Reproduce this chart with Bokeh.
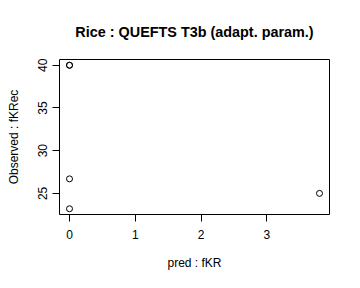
from bokeh.plotting import figure
from bokeh.models import Range1d, FixedTicker
from bokeh.embed import file_html
from bokeh.resources import INLINE

# data
pred_fKR = [0.0, 0.0, 0.0, 0.0, 3.8]
obs_fKRec = [40.0, 40.0, 26.7, 23.2, 25.0]
x_ticks = [0, 1, 2, 3]
y_ticks = [25, 30, 35, 40]
title_text = "Rice : QUEFTS T3b (adapt. param.)"
x_label = "pred : fKR"
y_label = "Observed : fKRec"

def pad(lo, hi):
    d = (hi - lo) * 0.04
    return lo - d, hi + d

x0, x1 = pad(min(pred_fKR), max(pred_fKR))
y0, y1 = pad(min(obs_fKRec), max(obs_fKRec))

FONT = "Liberation Sans"

p = figure(width=360, height=288, output_backend="svg", toolbar_location=None,
           x_range=Range1d(x0, x1), y_range=Range1d(y0, y1),
           min_border_left=59, min_border_right=31, min_border_top=59, min_border_bottom=74,
           title=title_text)
p.title.align = "center"
p.title.text_font = FONT
p.title.text_font_size = "14.4px"
p.title.text_font_style = "bold"
p.title.text_color = "black"
p.title.standoff = 39

p.background_fill_color = "white"
p.border_fill_color = "white"
p.outline_line_color = "black"
p.outline_line_alpha = 1
p.outline_line_width = 1
p.xgrid.visible = False
p.ygrid.visible = False

p.scatter(pred_fKR, obs_fKRec, size=6, marker="circle", fill_color=None,
          line_color="black", line_width=1)

for ax, ticks, lab in ((p.xaxis[0], x_ticks, x_label), (p.yaxis[0], y_ticks, y_label)):
    ax.ticker = FixedTicker(ticks=ticks)
    ax.minor_tick_line_color = None
    ax.axis_line_color = None
    ax.major_tick_in = 0
    ax.major_tick_out = 7
    ax.major_tick_line_color = "black"
    ax.major_label_text_font = FONT
    ax.major_label_text_font_size = "12px"
    ax.major_label_text_color = "black"
    ax.axis_label = lab
    ax.axis_label_text_font = FONT
    ax.axis_label_text_font_size = "12px"
    ax.axis_label_text_font_style = "normal"
    ax.axis_label_text_color = "black"

p.xaxis.major_label_standoff = 8
p.xaxis.axis_label_standoff = 14
p.yaxis.major_label_orientation = "vertical"
p.yaxis.major_label_standoff = 5
p.yaxis.axis_label_standoff = 15

open("out.html", "w").write(file_html(p, INLINE))
